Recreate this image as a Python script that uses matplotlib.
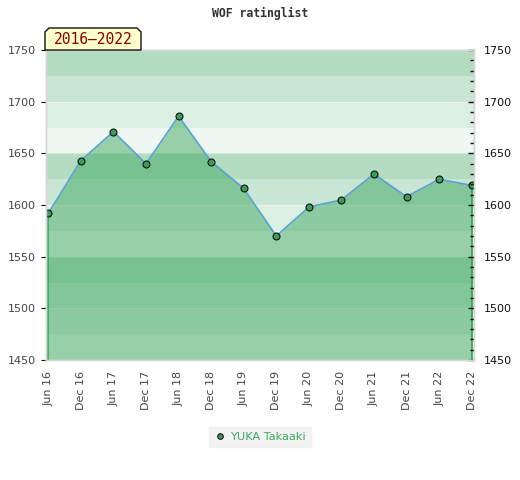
import matplotlib

matplotlib.use("Agg")

import matplotlib.pyplot as plt
from matplotlib.patches import Polygon
from matplotlib.ticker import MultipleLocator

# data
periods = ["Jun 16", "Dec 16", "Jun 17", "Dec 17", "Jun 18", "Dec 18", "Jun 19",
           "Dec 19", "Jun 20", "Dec 20", "Jun 21", "Dec 21", "Jun 22", "Dec 22"]
rating = [1592, 1643, 1671, 1640, 1686, 1642, 1616,
          1570, 1598, 1605, 1630, 1608, 1625, 1619]
player = "YUKA Takaaki"
title = "WOF ratinglist"
span_label = "2016\u20132022"

Y_MIN, Y_MAX = 1450, 1750
BAND = 25
BAND_COLORS = ["#eff7f2", "#dcefe3", "#c8e6d3", "#b3dcc1"]  # repeats every 100

GREEN = "#3ea860"
LINE = "#5aa2d2"
TEXT = "#444444"

fig = plt.figure(figsize=(5.2, 4.8), dpi=100)
fig.patch.set_facecolor("white")
ax = fig.add_axes([0.0885, 0.25, 0.8230, 0.6458])

# background bands
for i, lo in enumerate(range(Y_MIN, Y_MAX, BAND)):
    ax.axhspan(lo, lo + BAND, color=BAND_COLORS[i % 4], lw=0, zorder=0)
for v in range(Y_MIN + 50, Y_MAX, 50):
    ax.axhline(v, color="white", lw=1, alpha=0.35, zorder=0.5)

x = list(range(len(periods)))
ax.fill_between(x, rating, Y_MIN, color=GREEN, alpha=0.5, lw=0, zorder=1)
ax.vlines([x[0], x[-1]], Y_MIN, [rating[0], rating[-1]], color="#2aa24e", lw=1.2, zorder=2)
ax.plot(x, rating, color=LINE, lw=1.2, zorder=3)
ax.plot(x, rating, ls="none", marker="o", ms=5, mfc="#3c9c5c", mec="#111111",
        mew=0.8, zorder=4, label=player)

ax.set_xlim(-0.07, len(periods) - 1 + 0.07)
ax.set_ylim(Y_MIN, Y_MAX)
ax.set_xticks(x)
ax.set_xticklabels(periods, rotation=90, fontsize=8, color=TEXT)
ax.tick_params(axis="x", length=0, pad=8)

ax.yaxis.set_major_locator(MultipleLocator(50))
ax.tick_params(axis="y", left=False, labelleft=True, right=False, labelsize=8,
               labelcolor=TEXT, pad=4)

ax2 = ax.twinx()
ax2.set_ylim(Y_MIN, Y_MAX)
ax2.yaxis.set_major_locator(MultipleLocator(50))
ax2.yaxis.set_minor_locator(MultipleLocator(10))
ax2.tick_params(axis="y", which="both", direction="in", length=4, width=1,
                color="#111111", labelsize=8, labelcolor="#111111", pad=7)
ax2.tick_params(axis="y", which="minor", length=3)

for a in (ax, ax2):
    for s in a.spines.values():
        s.set_color("#d6d6d6")
        s.set_linewidth(1)

fig.text(0.5, 0.972, title, ha="center", va="center", fontsize=8.3,
         family="DejaVu Sans Mono", fontweight="bold", color="#333333")

# year span tag with clipped top corners
x0, x1, y0, y1, c = 45, 141, 430, 452, 4
tag = Polygon([(x0, y0), (x0, y1 - c), (x0 + c, y1), (x1 - c, y1), (x1, y1 - c), (x1, y0)],
              closed=True, transform=None, facecolor="#ffffcc", edgecolor="#111111",
              lw=1, zorder=10)
fig.patches.append(tag)
fig.text((x0 + x1) / 2 / 520, (y0 + y1) / 2 / 480 - 0.002, span_label, ha="center",
         va="center", fontsize=10.5, family="DejaVu Sans Mono", color="#8b0000", zorder=11)

leg = fig.legend(loc="center", bbox_to_anchor=(0.5, 0.09), frameon=True, fontsize=8.2,
                 labelcolor=GREEN, handletextpad=0.4, borderpad=0.45, handlelength=1.0,
                 fancybox=False, markerscale=0.8)
leg.get_frame().set_facecolor("#f0f0f0")
leg.get_frame().set_edgecolor("#f0f0f0")

fig.savefig("out.png", dpi=100, facecolor="white")
